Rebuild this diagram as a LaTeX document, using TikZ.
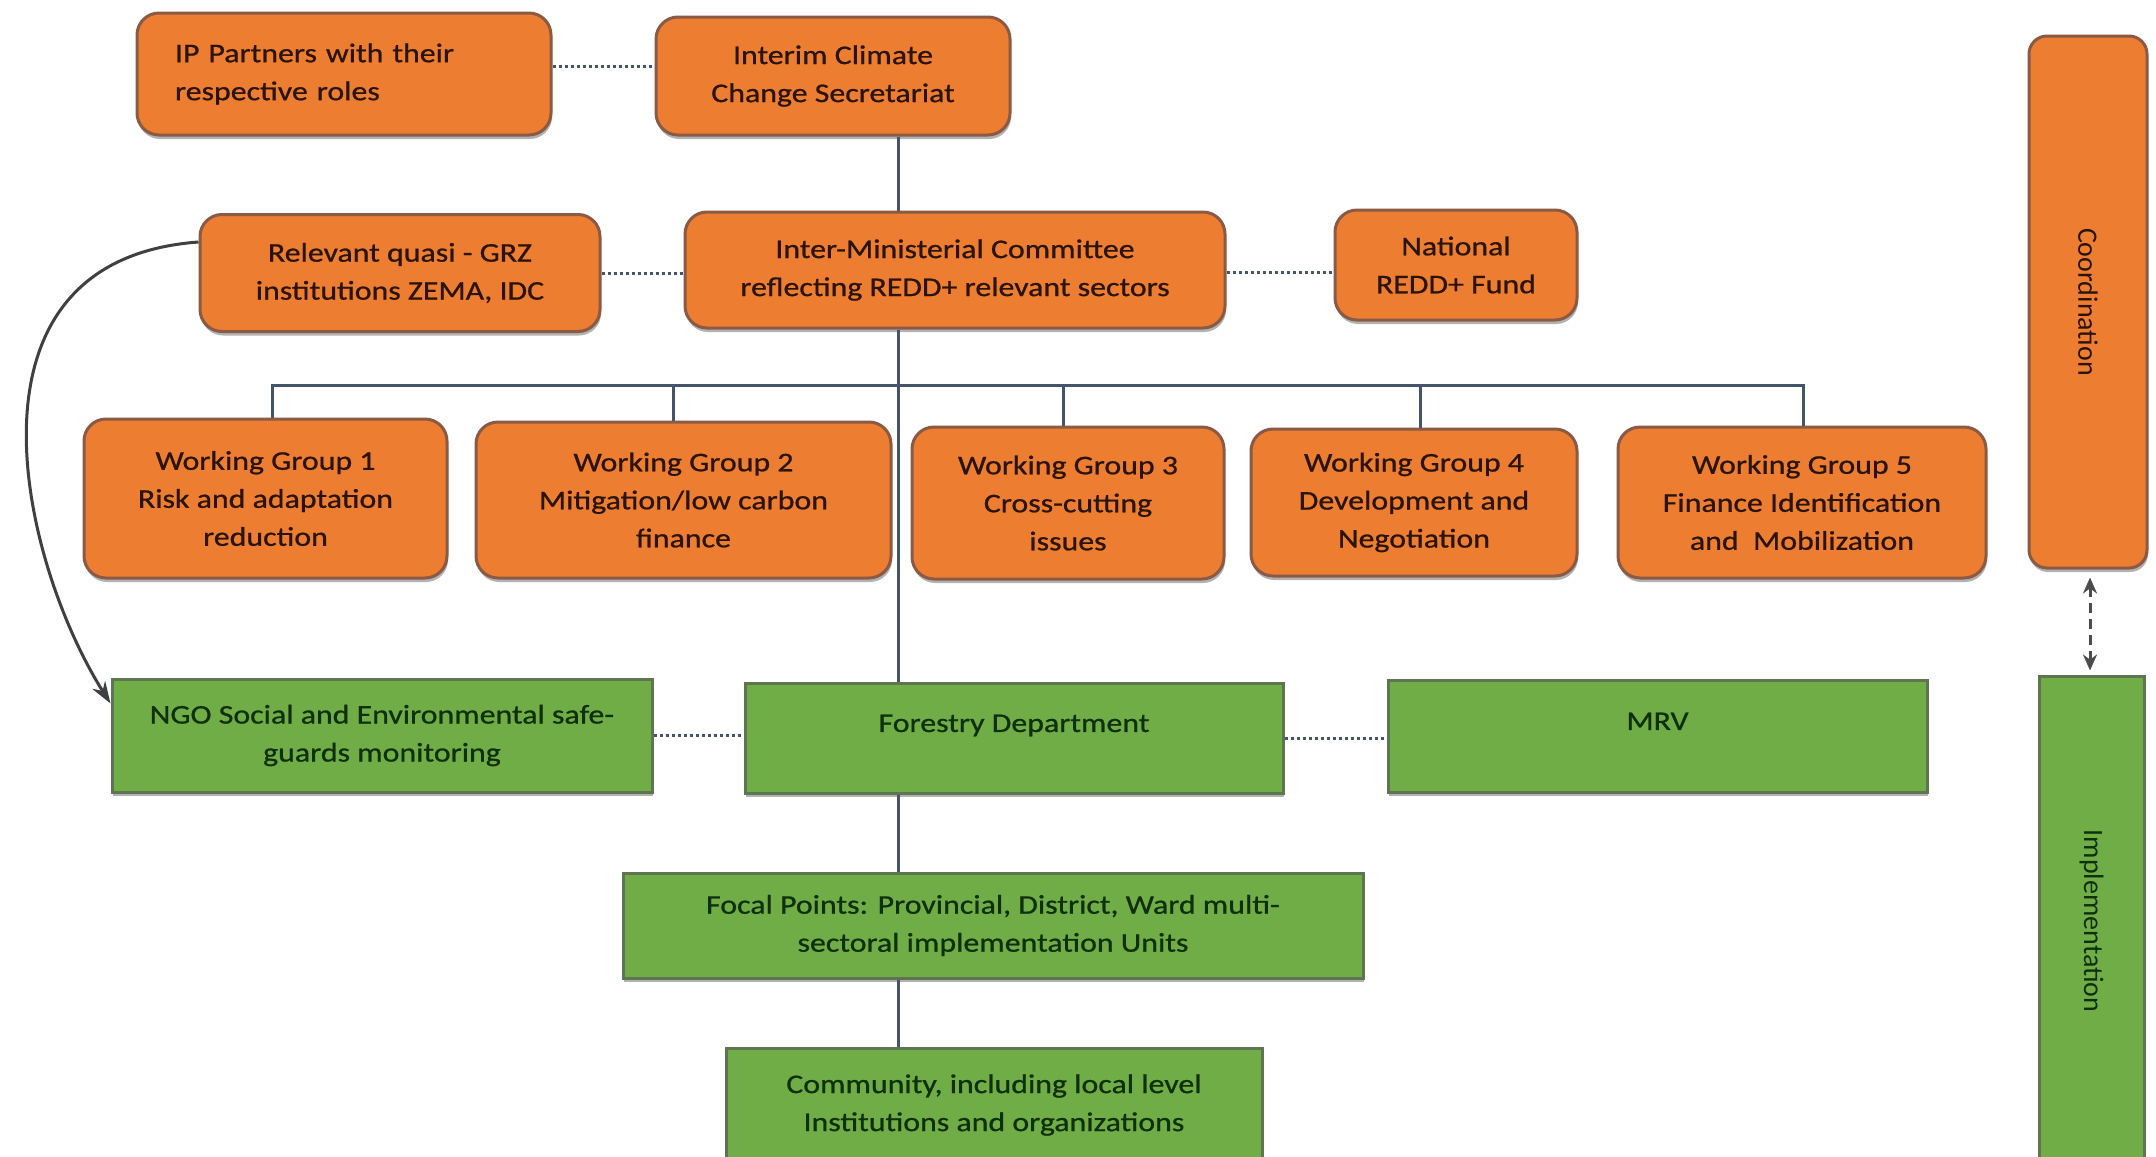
\documentclass[tikz,border=0pt]{standalone}
\usepackage{fontspec}
\usepackage{graphicx}
\setmainfont{Carlito}[FakeStretch=1.18,FakeBold=0.8]
\newfontfamily\sidefont{Carlito}
\usetikzlibrary{arrows.meta,shadows}
\definecolor{orfill}{HTML}{ED7D31}
\definecolor{ordraw}{HTML}{8A5A44}
\definecolor{grfill}{HTML}{70AD47}
\definecolor{grdraw}{HTML}{5E7552}
\definecolor{ortext}{HTML}{2A1405}
\definecolor{grtext}{HTML}{10300A}
\definecolor{linec}{HTML}{44546A}
\begin{document}
\begin{tikzpicture}[x=1pt,y=-1pt,
  box/.style={draw, line width=3pt, inner sep=0pt, align=center,
    font=\fontsize{27}{38}\selectfont,
    drop shadow={shadow xshift=1pt,shadow yshift=-4pt,fill=black!30,opacity=1}},
  obox/.style={box, fill=orfill, draw=ordraw, text=ortext, rounded corners=22pt},
  gbox/.style={box, fill=grfill, draw=grdraw, text=grtext},
  conn/.style={draw=linec, line width=3pt},
  dotline/.style={draw=linec, line width=3pt, dash pattern=on 3pt off 3pt},
  curve/.style={draw=black!75, line width=3pt, -{Stealth[length=22pt,width=15pt]}},
  dashar/.style={draw=black!70, line width=3pt, dash pattern=on 10pt off 6pt,
    {Stealth[length=16pt,width=14pt]}-{Stealth[length=16pt,width=14pt]}},
  sidetext/.style={font=\sidefont\fontsize{28}{34}\selectfont}
]
\useasboundingbox (0,0) rectangle (2156,1157);
\fill[white] (0,0) rectangle (2156,1157);
\clip (0,0) rectangle (2156,1157);

% orange boxes
\node[obox, minimum width=414pt, minimum height=122pt, text width=338pt, align=left] (IP) at (344,74) {IP Partners with their\\respective roles};
\node[obox, minimum width=354pt, minimum height=118pt] (ICCS) at (833,76) {Interim Climate\\Change Secretariat};
\node[obox, minimum width=400pt, minimum height=117pt] (REL) at (400,273) {Relevant quasi - GRZ\\institutions ZEMA, IDC};
\node[obox, minimum width=540pt, minimum height=116pt] (IMC) at (955,270) {Inter-Ministerial Committee\\reflecting REDD+ relevant sectors};
\node[obox, minimum width=242pt, minimum height=110pt] (NRF) at (1456,265) {National\\REDD+ Fund};

\node[obox, minimum width=363pt, minimum height=159pt] (WG1) at (265.5,498.5) {Working Group 1\\Risk and adaptation\\reduction};
\node[obox, minimum width=415pt, minimum height=156pt] (WG2) at (683.5,500) {Working Group 2\\Mitigation/low carbon\\finance};
\node[obox, minimum width=312pt, minimum height=152pt] (WG3) at (1068,503) {Working Group 3\\Cross-cutting\\issues};
\node[obox, minimum width=326pt, minimum height=147pt] (WG4) at (1414,502.5) {Working Group 4\\Development and\\Negotiation};
\node[obox, minimum width=368pt, minimum height=151pt] (WG5) at (1802,502.5) {Working Group 5\\Finance Identification\\and\ \ Mobilization};

\node[obox, minimum width=118pt, minimum height=532pt, rounded corners=18pt, sidetext] (CO) at (2088,302) {\rotatebox{-90}{Coordination}};

% green boxes
\node[gbox, minimum width=540pt, minimum height=113pt] (NGO) at (382,735.5) {NGO Social and Environmental safe-\\guards monitoring};
\node[gbox, minimum width=538pt, minimum height=110pt] (FD) at (1014,738) {Forestry Department\\[-20pt]\strut};
\node[gbox, minimum width=539pt, minimum height=112pt] (MRV) at (1657.5,736) {MRV\\[-20pt]\strut};
\node[gbox, minimum width=740pt, minimum height=105pt] (FP) at (993,925.5) {Focal Points: Provincial, District, Ward multi-\\sectoral implementation Units};
\node[gbox, minimum width=536pt, minimum height=114pt] (COM) at (994,1105) {Community, including local level\\Institutions and organizations};
\node[gbox, minimum width=105pt, minimum height=490pt, sidetext] (IM) at (2091.5,921) {\rotatebox{-90}{Implementation}};

% main vertical line and bus
\coordinate (mx) at (898,0);
\coordinate (bus) at (0,385);
\coordinate (d1) at (272,0);
\coordinate (d2) at (673,0);
\coordinate (d3) at (1063,0);
\coordinate (d4) at (1420,0);
\coordinate (d5) at (1803,0);
\draw[conn] (ICCS.south -| mx) -- (IMC.north -| mx);
\draw[conn] (IMC.south -| mx) -- (FD.north -| mx);
\draw[conn] (WG1.north -| d1) -- (bus -| d1) -- (bus -| d5) -- (WG5.north -| d5);
\draw[conn] (WG2.north -| d2) -- (bus -| d2);
\draw[conn] (WG3.north -| d3) -- (bus -| d3);
\draw[conn] (WG4.north -| d4) -- (bus -| d4);
\draw[conn] (FD.south -| mx) -- (FP.north -| mx);
\draw[conn] (FP.south -| mx) -- (COM.north -| mx);

% dotted links
\draw[dotline] ([yshift=8pt]IP.east) -- ([yshift=8pt]IP.east -| ICCS.west);
\draw[dotline] (REL.east) -- (REL.east -| IMC.west);
\draw[dotline] ([yshift=-2pt]IMC.east) -- ([yshift=-2pt]IMC.east -| NRF.west);
\draw[dotline] (NGO.east) -- (NGO.east -| FD.west);
\draw[dotline] (FD.east) -- (FD.east -| MRV.west);

% curved arrow
\draw[curve] ([yshift=31pt]REL.west) .. controls (-50,260) and (20,560) .. ([yshift=32pt]NGO.west);

% dashed double arrow
\draw[dashar, shorten <=8pt, shorten >=4pt] (CO.south -| 2090,0) -- (IM.north -| 2090,0);
\end{tikzpicture}
\end{document}
